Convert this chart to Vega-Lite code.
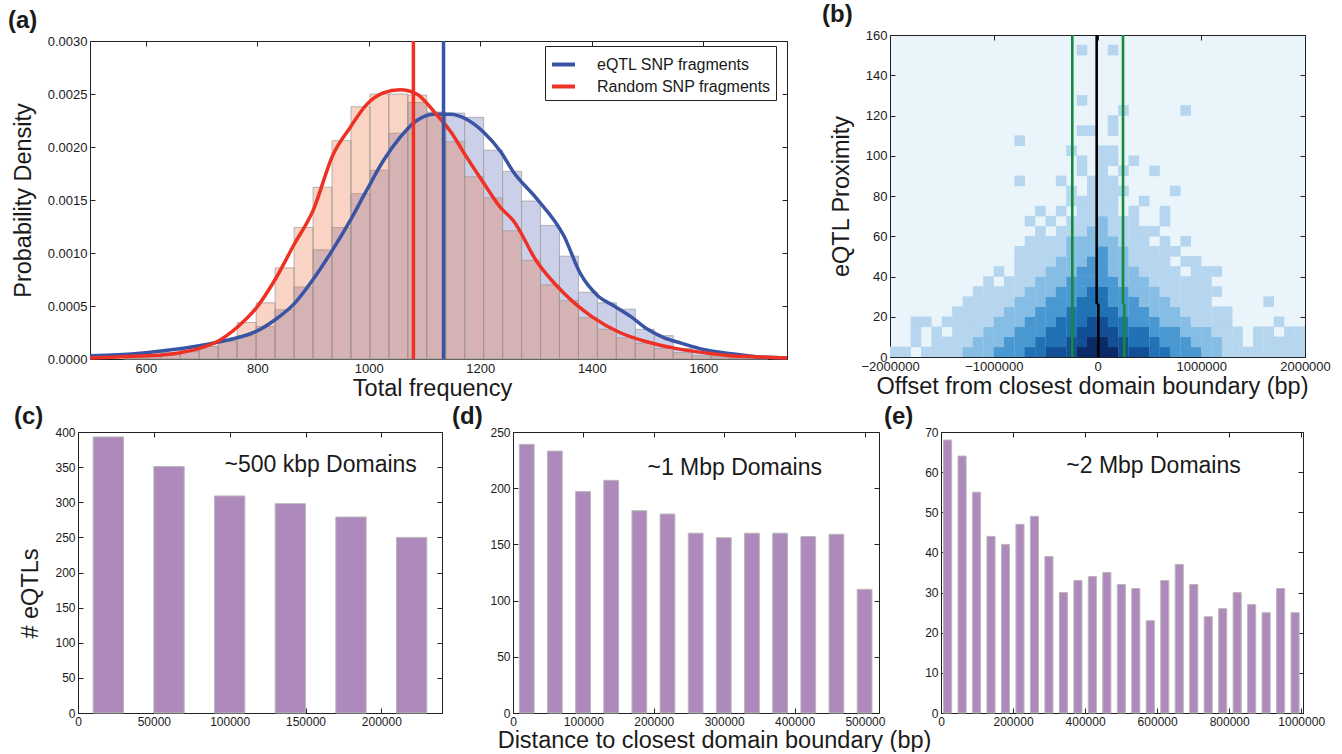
{
"$schema": "https://vega.github.io/schema/vega-lite/v6.json",
"background": "white",
"padding": {"left": 8, "top": 3, "right": 0, "bottom": 0},
"config": {
  "font": "Liberation Sans",
  "view": {"stroke": null},
  "axis": {"domainColor": "#222222", "tickColor": "#222222", "tickSize": -5, "labelPadding": 8, "labelFlush": false, "labelOverlap": false, "grid": false, "labelColor": "#1a1a1a", "labelFontSize": 12, "titleColor": "#1a1a1a", "titleFontWeight": "normal", "titleFontSize": 23.5, "zindex": 1},
  "title": {"fontSize": 24, "fontWeight": "bold", "anchor": "start", "frame": "group", "color": "#1a1a1a"}
},
"datasets": {
  "hist": [
    {"start": 560, "end": 594, "eqtl": 0.00003, "random": 0.00001},
    {"start": 594, "end": 628, "eqtl": 0.00004, "random": 0.00002},
    {"start": 628, "end": 662, "eqtl": 0.00006, "random": 0.00004},
    {"start": 662, "end": 696, "eqtl": 0.00008, "random": 0.00007},
    {"start": 696, "end": 730, "eqtl": 0.00012, "random": 0.00012},
    {"start": 730, "end": 764, "eqtl": 0.00017, "random": 0.00017},
    {"start": 764, "end": 798, "eqtl": 0.00022, "random": 0.000344},
    {"start": 798, "end": 832, "eqtl": 0.000306, "random": 0.00053},
    {"start": 832, "end": 866, "eqtl": 0.000465, "random": 0.00086},
    {"start": 866, "end": 900, "eqtl": 0.00068, "random": 0.00124},
    {"start": 900, "end": 934, "eqtl": 0.00103, "random": 0.00162},
    {"start": 934, "end": 968, "eqtl": 0.00124, "random": 0.00206},
    {"start": 968, "end": 1002, "eqtl": 0.00156, "random": 0.00238},
    {"start": 1002, "end": 1036, "eqtl": 0.00178, "random": 0.0025},
    {"start": 1036, "end": 1070, "eqtl": 0.00213, "random": 0.0025},
    {"start": 1070, "end": 1104, "eqtl": 0.00242, "random": 0.00249},
    {"start": 1104, "end": 1138, "eqtl": 0.00233, "random": 0.00232},
    {"start": 1138, "end": 1172, "eqtl": 0.00232, "random": 0.00205},
    {"start": 1172, "end": 1206, "eqtl": 0.00228, "random": 0.00172},
    {"start": 1206, "end": 1240, "eqtl": 0.00197, "random": 0.00152},
    {"start": 1240, "end": 1274, "eqtl": 0.00177, "random": 0.00121},
    {"start": 1274, "end": 1308, "eqtl": 0.00149, "random": 0.00093},
    {"start": 1308, "end": 1342, "eqtl": 0.00126, "random": 0.0007},
    {"start": 1342, "end": 1376, "eqtl": 0.00097, "random": 0.00055},
    {"start": 1376, "end": 1410, "eqtl": 0.00063, "random": 0.00039},
    {"start": 1410, "end": 1444, "eqtl": 0.00053, "random": 0.00028},
    {"start": 1444, "end": 1478, "eqtl": 0.00047, "random": 0.0002},
    {"start": 1478, "end": 1512, "eqtl": 0.00028, "random": 0.00015},
    {"start": 1512, "end": 1546, "eqtl": 0.00022, "random": 0.0001},
    {"start": 1546, "end": 1580, "eqtl": 0.0001, "random": 0.00006},
    {"start": 1580, "end": 1614, "eqtl": 0.00006, "random": 0.00003},
    {"start": 1614, "end": 1648, "eqtl": 0.00003, "random": 0.00002},
    {"start": 1648, "end": 1682, "eqtl": 0.00002, "random": 0.00001},
    {"start": 1682, "end": 1716, "eqtl": 0.00001, "random": 0.000005}
  ],
  "kde": [
    {"series": "eQTL SNP fragments", "freq": 500, "density": 0.00003},
    {"series": "eQTL SNP fragments", "freq": 550, "density": 0.00004},
    {"series": "eQTL SNP fragments", "freq": 600, "density": 0.00006},
    {"series": "eQTL SNP fragments", "freq": 650, "density": 0.00009},
    {"series": "eQTL SNP fragments", "freq": 696, "density": 0.000125},
    {"series": "eQTL SNP fragments", "freq": 730, "density": 0.00016},
    {"series": "eQTL SNP fragments", "freq": 764, "density": 0.0002},
    {"series": "eQTL SNP fragments", "freq": 798, "density": 0.00026},
    {"series": "eQTL SNP fragments", "freq": 832, "density": 0.00037},
    {"series": "eQTL SNP fragments", "freq": 866, "density": 0.00052},
    {"series": "eQTL SNP fragments", "freq": 900, "density": 0.00075},
    {"series": "eQTL SNP fragments", "freq": 934, "density": 0.00102},
    {"series": "eQTL SNP fragments", "freq": 966, "density": 0.0013},
    {"series": "eQTL SNP fragments", "freq": 996, "density": 0.00159},
    {"series": "eQTL SNP fragments", "freq": 1026, "density": 0.00187},
    {"series": "eQTL SNP fragments", "freq": 1056, "density": 0.00209},
    {"series": "eQTL SNP fragments", "freq": 1086, "density": 0.00225},
    {"series": "eQTL SNP fragments", "freq": 1116, "density": 0.00231},
    {"series": "eQTL SNP fragments", "freq": 1146, "density": 0.00231},
    {"series": "eQTL SNP fragments", "freq": 1176, "density": 0.00226},
    {"series": "eQTL SNP fragments", "freq": 1206, "density": 0.00214},
    {"series": "eQTL SNP fragments", "freq": 1236, "density": 0.00196},
    {"series": "eQTL SNP fragments", "freq": 1260, "density": 0.00176},
    {"series": "eQTL SNP fragments", "freq": 1300, "density": 0.00152},
    {"series": "eQTL SNP fragments", "freq": 1350, "density": 0.00116},
    {"series": "eQTL SNP fragments", "freq": 1380, "density": 0.0008},
    {"series": "eQTL SNP fragments", "freq": 1410, "density": 0.0006},
    {"series": "eQTL SNP fragments", "freq": 1440, "density": 0.0005},
    {"series": "eQTL SNP fragments", "freq": 1470, "density": 0.0004},
    {"series": "eQTL SNP fragments", "freq": 1500, "density": 0.00028},
    {"series": "eQTL SNP fragments", "freq": 1530, "density": 0.0002},
    {"series": "eQTL SNP fragments", "freq": 1560, "density": 0.00015},
    {"series": "eQTL SNP fragments", "freq": 1600, "density": 0.00009},
    {"series": "eQTL SNP fragments", "freq": 1650, "density": 0.00005},
    {"series": "eQTL SNP fragments", "freq": 1700, "density": 0.00002},
    {"series": "eQTL SNP fragments", "freq": 1750, "density": 0.00001},
    {"series": "Random SNP fragments", "freq": 500, "density": 0.00001},
    {"series": "Random SNP fragments", "freq": 550, "density": 0.00002},
    {"series": "Random SNP fragments", "freq": 600, "density": 0.00003},
    {"series": "Random SNP fragments", "freq": 650, "density": 0.00005},
    {"series": "Random SNP fragments", "freq": 696, "density": 0.0001},
    {"series": "Random SNP fragments", "freq": 730, "density": 0.00017},
    {"series": "Random SNP fragments", "freq": 764, "density": 0.0003},
    {"series": "Random SNP fragments", "freq": 798, "density": 0.00048},
    {"series": "Random SNP fragments", "freq": 832, "density": 0.00075},
    {"series": "Random SNP fragments", "freq": 866, "density": 0.00108},
    {"series": "Random SNP fragments", "freq": 900, "density": 0.0014},
    {"series": "Random SNP fragments", "freq": 936, "density": 0.00193},
    {"series": "Random SNP fragments", "freq": 966, "density": 0.00218},
    {"series": "Random SNP fragments", "freq": 996, "density": 0.0024},
    {"series": "Random SNP fragments", "freq": 1026, "density": 0.00251},
    {"series": "Random SNP fragments", "freq": 1056, "density": 0.00254},
    {"series": "Random SNP fragments", "freq": 1086, "density": 0.0025},
    {"series": "Random SNP fragments", "freq": 1116, "density": 0.00234},
    {"series": "Random SNP fragments", "freq": 1146, "density": 0.00215},
    {"series": "Random SNP fragments", "freq": 1176, "density": 0.0019},
    {"series": "Random SNP fragments", "freq": 1206, "density": 0.00166},
    {"series": "Random SNP fragments", "freq": 1236, "density": 0.00143},
    {"series": "Random SNP fragments", "freq": 1260, "density": 0.0013},
    {"series": "Random SNP fragments", "freq": 1300, "density": 0.00093},
    {"series": "Random SNP fragments", "freq": 1350, "density": 0.00062},
    {"series": "Random SNP fragments", "freq": 1400, "density": 0.0004},
    {"series": "Random SNP fragments", "freq": 1450, "density": 0.00025},
    {"series": "Random SNP fragments", "freq": 1500, "density": 0.00016},
    {"series": "Random SNP fragments", "freq": 1550, "density": 0.0001},
    {"series": "Random SNP fragments", "freq": 1600, "density": 0.00006},
    {"series": "Random SNP fragments", "freq": 1650, "density": 0.00003},
    {"series": "Random SNP fragments", "freq": 1700, "density": 0.00002},
    {"series": "Random SNP fragments", "freq": 1750, "density": 0.00001}
  ],
  "means": [
    {"series": "eQTL SNP fragments", "mean": 1134},
    {"series": "Random SNP fragments", "mean": 1080}
  ],
  "lines": [
    {"x": -243000, "x2": -243000, "y": 0, "y2": 160, "line": "±250 kbp"},
    {"x": 246000, "x2": 246000, "y": 26.4, "y2": 160, "line": "±250 kbp"},
    {"x": 246000, "x2": 258000, "y": 26.4, "y2": 26.4, "line": "±250 kbp"},
    {"x": 258000, "x2": 258000, "y": 0, "y2": 26.4, "line": "±250 kbp"},
    {"x": -8000, "x2": -8000, "y": 26.4, "y2": 160, "line": "0 bp"},
    {"x": -8000, "x2": 8000, "y": 26.4, "y2": 26.4, "line": "0 bp"},
    {"x": 8000, "x2": 8000, "y": 0, "y2": 26.4, "line": "0 bp"}
  ],
  "hex": [
    {"x": -1950000, "y": 2.5, "n": 1}, {"x": -1850000, "y": 2.5, "n": 1}, {"x": -1650000, "y": 2.5, "n": 1}, {"x": -1550000, "y": 2.5, "n": 1}, {"x": -1450000, "y": 2.5, "n": 1}, {"x": -1350000, "y": 2.5, "n": 1}, {"x": -1250000, "y": 2.5, "n": 2}, {"x": -1150000, "y": 2.5, "n": 2}, {"x": -1050000, "y": 2.5, "n": 2}, {"x": -950000, "y": 2.5, "n": 3}, {"x": -850000, "y": 2.5, "n": 3}, {"x": -750000, "y": 2.5, "n": 3}, {"x": -650000, "y": 2.5, "n": 4}, {"x": -550000, "y": 2.5, "n": 4}, {"x": -450000, "y": 2.5, "n": 5}, {"x": -350000, "y": 2.5, "n": 5}, {"x": -250000, "y": 2.5, "n": 5}, {"x": -150000, "y": 2.5, "n": 6}, {"x": -50000, "y": 2.5, "n": 6}, {"x": 50000, "y": 2.5, "n": 6}, {"x": 150000, "y": 2.5, "n": 6}, {"x": 250000, "y": 2.5, "n": 5}, {"x": 350000, "y": 2.5, "n": 5}, {"x": 450000, "y": 2.5, "n": 5}, {"x": 550000, "y": 2.5, "n": 4}, {"x": 650000, "y": 2.5, "n": 4}, {"x": 750000, "y": 2.5, "n": 3}, {"x": 850000, "y": 2.5, "n": 3}, {"x": 950000, "y": 2.5, "n": 3}, {"x": 1050000, "y": 2.5, "n": 2}, {"x": 1150000, "y": 2.5, "n": 2}, {"x": 1250000, "y": 2.5, "n": 1}, {"x": 1350000, "y": 2.5, "n": 1}, {"x": 1450000, "y": 2.5, "n": 1}, {"x": 1550000, "y": 2.5, "n": 1}, {"x": 1650000, "y": 2.5, "n": 1}, {"x": 1750000, "y": 2.5, "n": 1}, {"x": 1850000, "y": 2.5, "n": 1}, {"x": 1950000, "y": 2.5, "n": 1},
    {"x": -1750000, "y": 7.5, "n": 1}, {"x": -1550000, "y": 7.5, "n": 1}, {"x": -1450000, "y": 7.5, "n": 1}, {"x": -1350000, "y": 7.5, "n": 1}, {"x": -1250000, "y": 7.5, "n": 1}, {"x": -1150000, "y": 7.5, "n": 2}, {"x": -1050000, "y": 7.5, "n": 2}, {"x": -950000, "y": 7.5, "n": 2}, {"x": -850000, "y": 7.5, "n": 3}, {"x": -750000, "y": 7.5, "n": 3}, {"x": -650000, "y": 7.5, "n": 3}, {"x": -550000, "y": 7.5, "n": 4}, {"x": -450000, "y": 7.5, "n": 4}, {"x": -350000, "y": 7.5, "n": 4}, {"x": -250000, "y": 7.5, "n": 5}, {"x": -150000, "y": 7.5, "n": 5}, {"x": -50000, "y": 7.5, "n": 6}, {"x": 50000, "y": 7.5, "n": 6}, {"x": 150000, "y": 7.5, "n": 5}, {"x": 250000, "y": 7.5, "n": 5}, {"x": 350000, "y": 7.5, "n": 4}, {"x": 450000, "y": 7.5, "n": 4}, {"x": 550000, "y": 7.5, "n": 4}, {"x": 650000, "y": 7.5, "n": 3}, {"x": 750000, "y": 7.5, "n": 3}, {"x": 850000, "y": 7.5, "n": 3}, {"x": 950000, "y": 7.5, "n": 2}, {"x": 1050000, "y": 7.5, "n": 2}, {"x": 1150000, "y": 7.5, "n": 2}, {"x": 1250000, "y": 7.5, "n": 1}, {"x": 1350000, "y": 7.5, "n": 1}, {"x": 1550000, "y": 7.5, "n": 1}, {"x": 1650000, "y": 7.5, "n": 1}, {"x": 1750000, "y": 7.5, "n": 1}, {"x": 1850000, "y": 7.5, "n": 1}, {"x": 1950000, "y": 7.5, "n": 1},
    {"x": -1750000, "y": 12.5, "n": 1}, {"x": -1550000, "y": 12.5, "n": 1}, {"x": -1350000, "y": 12.5, "n": 1}, {"x": -1250000, "y": 12.5, "n": 1}, {"x": -1150000, "y": 12.5, "n": 1}, {"x": -1050000, "y": 12.5, "n": 2}, {"x": -950000, "y": 12.5, "n": 2}, {"x": -850000, "y": 12.5, "n": 2}, {"x": -750000, "y": 12.5, "n": 3}, {"x": -650000, "y": 12.5, "n": 3}, {"x": -550000, "y": 12.5, "n": 3}, {"x": -450000, "y": 12.5, "n": 4}, {"x": -350000, "y": 12.5, "n": 4}, {"x": -250000, "y": 12.5, "n": 4}, {"x": -150000, "y": 12.5, "n": 5}, {"x": -50000, "y": 12.5, "n": 5}, {"x": 50000, "y": 12.5, "n": 5}, {"x": 150000, "y": 12.5, "n": 5}, {"x": 250000, "y": 12.5, "n": 4}, {"x": 350000, "y": 12.5, "n": 4}, {"x": 450000, "y": 12.5, "n": 4}, {"x": 550000, "y": 12.5, "n": 3}, {"x": 650000, "y": 12.5, "n": 3}, {"x": 750000, "y": 12.5, "n": 3}, {"x": 850000, "y": 12.5, "n": 2}, {"x": 950000, "y": 12.5, "n": 2}, {"x": 1050000, "y": 12.5, "n": 2}, {"x": 1150000, "y": 12.5, "n": 1}, {"x": 1250000, "y": 12.5, "n": 1}, {"x": 1350000, "y": 12.5, "n": 1}, {"x": 1550000, "y": 12.5, "n": 1}, {"x": 1650000, "y": 12.5, "n": 1}, {"x": 1850000, "y": 12.5, "n": 1}, {"x": 1950000, "y": 12.5, "n": 1},
    {"x": -1750000, "y": 17.5, "n": 1}, {"x": -1650000, "y": 17.5, "n": 1}, {"x": -1450000, "y": 17.5, "n": 1}, {"x": -1350000, "y": 17.5, "n": 1}, {"x": -1250000, "y": 17.5, "n": 1}, {"x": -1150000, "y": 17.5, "n": 1}, {"x": -1050000, "y": 17.5, "n": 1}, {"x": -950000, "y": 17.5, "n": 2}, {"x": -850000, "y": 17.5, "n": 2}, {"x": -750000, "y": 17.5, "n": 2}, {"x": -650000, "y": 17.5, "n": 3}, {"x": -550000, "y": 17.5, "n": 3}, {"x": -450000, "y": 17.5, "n": 3}, {"x": -350000, "y": 17.5, "n": 4}, {"x": -250000, "y": 17.5, "n": 4}, {"x": -150000, "y": 17.5, "n": 4}, {"x": -50000, "y": 17.5, "n": 5}, {"x": 50000, "y": 17.5, "n": 5}, {"x": 150000, "y": 17.5, "n": 4}, {"x": 250000, "y": 17.5, "n": 4}, {"x": 350000, "y": 17.5, "n": 3}, {"x": 450000, "y": 17.5, "n": 3}, {"x": 550000, "y": 17.5, "n": 3}, {"x": 650000, "y": 17.5, "n": 2}, {"x": 750000, "y": 17.5, "n": 2}, {"x": 850000, "y": 17.5, "n": 2}, {"x": 950000, "y": 17.5, "n": 1}, {"x": 1050000, "y": 17.5, "n": 1}, {"x": 1150000, "y": 17.5, "n": 1}, {"x": 1250000, "y": 17.5, "n": 1}, {"x": 1750000, "y": 17.5, "n": 1},
    {"x": -1350000, "y": 22.5, "n": 1}, {"x": -1250000, "y": 22.5, "n": 1}, {"x": -1150000, "y": 22.5, "n": 1}, {"x": -1050000, "y": 22.5, "n": 1}, {"x": -950000, "y": 22.5, "n": 1}, {"x": -850000, "y": 22.5, "n": 2}, {"x": -750000, "y": 22.5, "n": 2}, {"x": -650000, "y": 22.5, "n": 2}, {"x": -550000, "y": 22.5, "n": 3}, {"x": -450000, "y": 22.5, "n": 3}, {"x": -350000, "y": 22.5, "n": 3}, {"x": -250000, "y": 22.5, "n": 4}, {"x": -150000, "y": 22.5, "n": 4}, {"x": -50000, "y": 22.5, "n": 4}, {"x": 50000, "y": 22.5, "n": 4}, {"x": 150000, "y": 22.5, "n": 4}, {"x": 250000, "y": 22.5, "n": 3}, {"x": 350000, "y": 22.5, "n": 3}, {"x": 450000, "y": 22.5, "n": 3}, {"x": 550000, "y": 22.5, "n": 2}, {"x": 650000, "y": 22.5, "n": 2}, {"x": 750000, "y": 22.5, "n": 2}, {"x": 850000, "y": 22.5, "n": 1}, {"x": 950000, "y": 22.5, "n": 1}, {"x": 1050000, "y": 22.5, "n": 1}, {"x": 1150000, "y": 22.5, "n": 1}, {"x": 1250000, "y": 22.5, "n": 1},
    {"x": -1250000, "y": 27.5, "n": 1}, {"x": -1150000, "y": 27.5, "n": 1}, {"x": -1050000, "y": 27.5, "n": 1}, {"x": -950000, "y": 27.5, "n": 1}, {"x": -850000, "y": 27.5, "n": 1}, {"x": -750000, "y": 27.5, "n": 2}, {"x": -650000, "y": 27.5, "n": 2}, {"x": -550000, "y": 27.5, "n": 2}, {"x": -450000, "y": 27.5, "n": 3}, {"x": -350000, "y": 27.5, "n": 3}, {"x": -250000, "y": 27.5, "n": 3}, {"x": -150000, "y": 27.5, "n": 4}, {"x": -50000, "y": 27.5, "n": 4}, {"x": 50000, "y": 27.5, "n": 4}, {"x": 150000, "y": 27.5, "n": 3}, {"x": 250000, "y": 27.5, "n": 3}, {"x": 350000, "y": 27.5, "n": 3}, {"x": 450000, "y": 27.5, "n": 2}, {"x": 550000, "y": 27.5, "n": 2}, {"x": 650000, "y": 27.5, "n": 2}, {"x": 750000, "y": 27.5, "n": 1}, {"x": 850000, "y": 27.5, "n": 1}, {"x": 950000, "y": 27.5, "n": 1}, {"x": 1050000, "y": 27.5, "n": 1}, {"x": 1650000, "y": 27.5, "n": 1},
    {"x": -1150000, "y": 32.5, "n": 1}, {"x": -1050000, "y": 32.5, "n": 1}, {"x": -950000, "y": 32.5, "n": 1}, {"x": -850000, "y": 32.5, "n": 1}, {"x": -750000, "y": 32.5, "n": 1}, {"x": -650000, "y": 32.5, "n": 2}, {"x": -550000, "y": 32.5, "n": 2}, {"x": -450000, "y": 32.5, "n": 2}, {"x": -350000, "y": 32.5, "n": 3}, {"x": -250000, "y": 32.5, "n": 3}, {"x": -150000, "y": 32.5, "n": 3}, {"x": -50000, "y": 32.5, "n": 4}, {"x": 50000, "y": 32.5, "n": 4}, {"x": 150000, "y": 32.5, "n": 3}, {"x": 250000, "y": 32.5, "n": 3}, {"x": 350000, "y": 32.5, "n": 2}, {"x": 450000, "y": 32.5, "n": 2}, {"x": 550000, "y": 32.5, "n": 2}, {"x": 650000, "y": 32.5, "n": 1}, {"x": 750000, "y": 32.5, "n": 1}, {"x": 850000, "y": 32.5, "n": 1}, {"x": 950000, "y": 32.5, "n": 1}, {"x": 1050000, "y": 32.5, "n": 1}, {"x": 1150000, "y": 32.5, "n": 1},
    {"x": -1050000, "y": 37.5, "n": 1}, {"x": -850000, "y": 37.5, "n": 1}, {"x": -750000, "y": 37.5, "n": 1}, {"x": -650000, "y": 37.5, "n": 1}, {"x": -550000, "y": 37.5, "n": 2}, {"x": -450000, "y": 37.5, "n": 2}, {"x": -350000, "y": 37.5, "n": 2}, {"x": -250000, "y": 37.5, "n": 3}, {"x": -150000, "y": 37.5, "n": 3}, {"x": -50000, "y": 37.5, "n": 3}, {"x": 50000, "y": 37.5, "n": 3}, {"x": 150000, "y": 37.5, "n": 3}, {"x": 250000, "y": 37.5, "n": 2}, {"x": 350000, "y": 37.5, "n": 2}, {"x": 450000, "y": 37.5, "n": 2}, {"x": 550000, "y": 37.5, "n": 1}, {"x": 650000, "y": 37.5, "n": 1}, {"x": 750000, "y": 37.5, "n": 1}, {"x": 850000, "y": 37.5, "n": 1}, {"x": 950000, "y": 37.5, "n": 1}, {"x": 1050000, "y": 37.5, "n": 1},
    {"x": -950000, "y": 42.5, "n": 1}, {"x": -750000, "y": 42.5, "n": 1}, {"x": -650000, "y": 42.5, "n": 1}, {"x": -550000, "y": 42.5, "n": 1}, {"x": -450000, "y": 42.5, "n": 2}, {"x": -350000, "y": 42.5, "n": 2}, {"x": -250000, "y": 42.5, "n": 2}, {"x": -150000, "y": 42.5, "n": 3}, {"x": -50000, "y": 42.5, "n": 3}, {"x": 50000, "y": 42.5, "n": 3}, {"x": 150000, "y": 42.5, "n": 2}, {"x": 250000, "y": 42.5, "n": 2}, {"x": 350000, "y": 42.5, "n": 2}, {"x": 450000, "y": 42.5, "n": 1}, {"x": 550000, "y": 42.5, "n": 1}, {"x": 650000, "y": 42.5, "n": 1}, {"x": 750000, "y": 42.5, "n": 1}, {"x": 950000, "y": 42.5, "n": 1}, {"x": 1050000, "y": 42.5, "n": 1}, {"x": 1150000, "y": 42.5, "n": 1},
    {"x": -750000, "y": 47.5, "n": 1}, {"x": -650000, "y": 47.5, "n": 1}, {"x": -550000, "y": 47.5, "n": 1}, {"x": -450000, "y": 47.5, "n": 1}, {"x": -350000, "y": 47.5, "n": 2}, {"x": -250000, "y": 47.5, "n": 2}, {"x": -150000, "y": 47.5, "n": 2}, {"x": -50000, "y": 47.5, "n": 3}, {"x": 50000, "y": 47.5, "n": 3}, {"x": 150000, "y": 47.5, "n": 2}, {"x": 250000, "y": 47.5, "n": 2}, {"x": 350000, "y": 47.5, "n": 1}, {"x": 450000, "y": 47.5, "n": 1}, {"x": 550000, "y": 47.5, "n": 1}, {"x": 650000, "y": 47.5, "n": 1}, {"x": 850000, "y": 47.5, "n": 1}, {"x": 950000, "y": 47.5, "n": 1},
    {"x": -750000, "y": 52.5, "n": 1}, {"x": -650000, "y": 52.5, "n": 1}, {"x": -550000, "y": 52.5, "n": 1}, {"x": -450000, "y": 52.5, "n": 1}, {"x": -350000, "y": 52.5, "n": 1}, {"x": -250000, "y": 52.5, "n": 2}, {"x": -150000, "y": 52.5, "n": 2}, {"x": -50000, "y": 52.5, "n": 2}, {"x": 50000, "y": 52.5, "n": 3}, {"x": 150000, "y": 52.5, "n": 2}, {"x": 250000, "y": 52.5, "n": 2}, {"x": 350000, "y": 52.5, "n": 1}, {"x": 450000, "y": 52.5, "n": 1}, {"x": 550000, "y": 52.5, "n": 1}, {"x": 650000, "y": 52.5, "n": 1}, {"x": 750000, "y": 52.5, "n": 1},
    {"x": -650000, "y": 57.5, "n": 1}, {"x": -550000, "y": 57.5, "n": 1}, {"x": -450000, "y": 57.5, "n": 1}, {"x": -350000, "y": 57.5, "n": 1}, {"x": -250000, "y": 57.5, "n": 2}, {"x": -150000, "y": 57.5, "n": 2}, {"x": -50000, "y": 57.5, "n": 2}, {"x": 50000, "y": 57.5, "n": 2}, {"x": 150000, "y": 57.5, "n": 2}, {"x": 250000, "y": 57.5, "n": 1}, {"x": 350000, "y": 57.5, "n": 1}, {"x": 450000, "y": 57.5, "n": 1}, {"x": 650000, "y": 57.5, "n": 1}, {"x": 850000, "y": 57.5, "n": 1},
    {"x": -550000, "y": 62.5, "n": 1}, {"x": -350000, "y": 62.5, "n": 1}, {"x": -250000, "y": 62.5, "n": 1}, {"x": -150000, "y": 62.5, "n": 1}, {"x": -50000, "y": 62.5, "n": 2}, {"x": 50000, "y": 62.5, "n": 2}, {"x": 150000, "y": 62.5, "n": 1}, {"x": 250000, "y": 62.5, "n": 1}, {"x": 350000, "y": 62.5, "n": 1}, {"x": 450000, "y": 62.5, "n": 1}, {"x": 550000, "y": 62.5, "n": 1},
    {"x": -650000, "y": 67.5, "n": 1}, {"x": -450000, "y": 67.5, "n": 1}, {"x": -250000, "y": 67.5, "n": 1}, {"x": -150000, "y": 67.5, "n": 1}, {"x": -50000, "y": 67.5, "n": 1}, {"x": 50000, "y": 67.5, "n": 2}, {"x": 150000, "y": 67.5, "n": 1}, {"x": 250000, "y": 67.5, "n": 1}, {"x": 350000, "y": 67.5, "n": 1}, {"x": 650000, "y": 67.5, "n": 1},
    {"x": -550000, "y": 72.5, "n": 1}, {"x": -350000, "y": 72.5, "n": 1}, {"x": -150000, "y": 72.5, "n": 1}, {"x": -50000, "y": 72.5, "n": 1}, {"x": 50000, "y": 72.5, "n": 1}, {"x": 150000, "y": 72.5, "n": 1}, {"x": 350000, "y": 72.5, "n": 1}, {"x": 650000, "y": 72.5, "n": 1},
    {"x": -250000, "y": 77.5, "n": 1}, {"x": -150000, "y": 77.5, "n": 1}, {"x": -50000, "y": 77.5, "n": 1}, {"x": 50000, "y": 77.5, "n": 1}, {"x": 150000, "y": 77.5, "n": 1}, {"x": 450000, "y": 77.5, "n": 1},
    {"x": -250000, "y": 82.5, "n": 1}, {"x": -50000, "y": 82.5, "n": 1}, {"x": 50000, "y": 82.5, "n": 1}, {"x": 150000, "y": 82.5, "n": 1}, {"x": 250000, "y": 82.5, "n": 1}, {"x": 750000, "y": 82.5, "n": 1},
    {"x": -750000, "y": 87.5, "n": 1}, {"x": -350000, "y": 87.5, "n": 1}, {"x": -50000, "y": 87.5, "n": 1}, {"x": 50000, "y": 87.5, "n": 1}, {"x": 150000, "y": 87.5, "n": 1},
    {"x": -150000, "y": 92.5, "n": 1}, {"x": 50000, "y": 92.5, "n": 1}, {"x": 250000, "y": 92.5, "n": 1}, {"x": 550000, "y": 92.5, "n": 1},
    {"x": -150000, "y": 97.5, "n": 1}, {"x": 50000, "y": 97.5, "n": 1}, {"x": 150000, "y": 97.5, "n": 1}, {"x": 350000, "y": 97.5, "n": 1},
    {"x": -250000, "y": 102.5, "n": 1}, {"x": 50000, "y": 102.5, "n": 1}, {"x": 150000, "y": 102.5, "n": 1},
    {"x": -750000, "y": 107.5, "n": 1},
    {"x": -150000, "y": 112.5, "n": 1}, {"x": -50000, "y": 112.5, "n": 1}, {"x": 150000, "y": 112.5, "n": 1},
    {"x": 150000, "y": 117.5, "n": 1},
    {"x": 250000, "y": 122.5, "n": 1}, {"x": 850000, "y": 122.5, "n": 1},
    {"x": -150000, "y": 127.5, "n": 1},
    {"x": -150000, "y": 152.5, "n": 1}, {"x": 150000, "y": 152.5, "n": 1}
  ],
  "c": [
    {"start": 10000, "end": 30000, "eqtls": 393},
    {"start": 50000, "end": 70000, "eqtls": 351},
    {"start": 90000, "end": 110000, "eqtls": 309},
    {"start": 130000, "end": 150000, "eqtls": 298},
    {"start": 170000, "end": 190000, "eqtls": 279},
    {"start": 210000, "end": 230000, "eqtls": 250}
  ],
  "d": [
    {"start": 9000, "end": 30000, "eqtls": 239},
    {"start": 49000, "end": 70000, "eqtls": 233},
    {"start": 89000, "end": 110000, "eqtls": 197},
    {"start": 129000, "end": 150000, "eqtls": 207},
    {"start": 169000, "end": 190000, "eqtls": 180},
    {"start": 209000, "end": 230000, "eqtls": 177},
    {"start": 249000, "end": 270000, "eqtls": 160},
    {"start": 289000, "end": 310000, "eqtls": 156},
    {"start": 329000, "end": 350000, "eqtls": 160},
    {"start": 369000, "end": 390000, "eqtls": 160},
    {"start": 409000, "end": 430000, "eqtls": 157},
    {"start": 449000, "end": 470000, "eqtls": 159},
    {"start": 489000, "end": 510000, "eqtls": 110}
  ],
  "e": [
    {"start": 7000, "end": 29500, "eqtls": 68},
    {"start": 47200, "end": 69700, "eqtls": 64},
    {"start": 87400, "end": 109900, "eqtls": 55},
    {"start": 127600, "end": 150100, "eqtls": 44},
    {"start": 167800, "end": 190300, "eqtls": 42},
    {"start": 208000, "end": 230500, "eqtls": 47},
    {"start": 248200, "end": 270700, "eqtls": 49},
    {"start": 288400, "end": 310900, "eqtls": 39},
    {"start": 328600, "end": 351100, "eqtls": 30},
    {"start": 368800, "end": 391300, "eqtls": 33},
    {"start": 409000, "end": 431500, "eqtls": 34},
    {"start": 449200, "end": 471700, "eqtls": 35},
    {"start": 489400, "end": 511900, "eqtls": 32},
    {"start": 529600, "end": 552100, "eqtls": 31},
    {"start": 569800, "end": 592300, "eqtls": 23},
    {"start": 610000, "end": 632500, "eqtls": 33},
    {"start": 650200, "end": 672700, "eqtls": 37},
    {"start": 690400, "end": 712900, "eqtls": 32},
    {"start": 730600, "end": 753100, "eqtls": 24},
    {"start": 770800, "end": 793300, "eqtls": 26},
    {"start": 811000, "end": 833500, "eqtls": 30},
    {"start": 851200, "end": 873700, "eqtls": 27},
    {"start": 891400, "end": 913900, "eqtls": 25},
    {"start": 931600, "end": 954100, "eqtls": 31},
    {"start": 971800, "end": 994300, "eqtls": 25}
  ]
},
"spacing": 5,
"bounds": "full",
"resolve": {"scale": {"color": "independent", "fill": "independent", "stroke": "independent"}, "legend": {"color": "independent", "fill": "independent", "stroke": "independent"}},
"vconcat": [
  {
    "resolve": {"scale": {"color": "independent", "fill": "independent", "stroke": "independent"}, "legend": {"color": "independent", "fill": "independent", "stroke": "independent"}},
    "hconcat": [
      {
        "width": 709, "height": 324,
        "title": {"text": "(a)", "dx": -70, "offset": 2},
        "resolve": {"axis": {"x": "independent", "y": "independent"}},
        "layer": [
          {
            "data": {"name": "hist"},
            "mark": {"type": "rect", "fill": "#cbcfe8", "stroke": "#9a9a9a", "strokeWidth": 0.7},
            "encoding": {
              "x": {"field": "start", "type": "quantitative", "scale": {"domain": [500, 1750], "range": [12, 709], "nice": false, "zero": false},
                    "axis": {"orient": "bottom", "values": [600, 800, 1000, 1200, 1400, 1600], "format": "d", "labelFontSize": 13, "title": "Total frequency", "titlePadding": 1, "titleX": 354, "titleAlign": "center"}},
              "x2": {"field": "end"},
              "y": {"field": "eqtl", "type": "quantitative", "scale": {"domain": [0, 0.003], "range": [324, 6], "nice": false},
                    "axis": {"orient": "left", "offset": -12, "values": [0, 0.0005, 0.001, 0.0015, 0.002, 0.0025, 0.003], "format": ".4f", "labelFontSize": 13, "title": "Probability Density", "titlePadding": 12}},
              "y2": {"datum": 0}
            }
          },
          {
            "data": {"name": "hist"},
            "mark": {"type": "rect", "fill": "#ec7947", "fillOpacity": 0.32, "stroke": "#9a9a9a", "strokeWidth": 0.7},
            "encoding": {
              "x": {"field": "start", "type": "quantitative", "axis": null},
              "x2": {"field": "end"},
              "y": {"field": "random", "type": "quantitative", "axis": null},
              "y2": {"datum": 0}
            }
          },
          {
            "data": {"name": "kde"},
            "mark": {"type": "line", "strokeWidth": 3.5, "interpolate": "monotone"},
            "encoding": {
              "x": {"field": "freq", "type": "quantitative", "axis": {"orient": "top", "offset": -6, "labels": false, "title": null, "values": [600, 800, 1000, 1200, 1400, 1600]}},
              "y": {"field": "density", "type": "quantitative", "axis": {"orient": "right", "labels": false, "title": null, "values": [0, 0.0005, 0.001, 0.0015, 0.002, 0.0025, 0.003]}},
              "color": {"field": "series", "type": "nominal",
                        "scale": {"domain": ["eQTL SNP fragments", "Random SNP fragments"], "range": ["#3a54a4", "#ee3124"]},
                        "legend": {"orient": "top-right", "offset": 11, "title": null, "symbolType": "stroke", "symbolStrokeWidth": 4, "symbolSize": 529, "labelFontSize": 16, "labelLimit": 400, "labelColor": "#1a1a1a", "strokeColor": "#222222", "fillColor": "white", "padding": 5, "rowPadding": 0, "labelOffset": 20, "cornerRadius": 0}}
            }
          },
          {
            "data": {"name": "means"},
            "mark": {"type": "rule", "strokeWidth": 3.5},
            "encoding": {
              "x": {"field": "mean", "type": "quantitative", "axis": null},
              "y": {"datum": 0, "type": "quantitative", "axis": null},
              "y2": {"datum": 0.003},
              "color": {"field": "series", "type": "nominal", "legend": null}
            }
          }
        ]
      },
      {
        "width": 415, "height": 322,
        "title": {"text": "(b)", "dx": -68, "offset": 2},
        "view": {"fill": "#eaf4fb"},
        "resolve": {"axis": {"x": "independent", "y": "independent"}},
        "layer": [
          {
            "data": {"name": "hex"},
            "mark": {"type": "square", "size": 112, "opacity": 1, "clip": true},
            "encoding": {
              "x": {"field": "x", "type": "quantitative", "scale": {"domain": [-2000000, 2000000], "nice": false},
                    "axis": {"orient": "bottom", "values": [-2000000, -1000000, 0, 1000000, 2000000], "format": "d", "labelFontSize": 13, "title": "Offset from closest domain boundary (bp)", "titlePadding": 1, "titleX": 202, "titleAlign": "center"}},
              "y": {"field": "y", "type": "quantitative", "scale": {"domain": [0, 160], "nice": false},
                    "axis": {"orient": "left", "values": [0, 20, 40, 60, 80, 100, 120, 140, 160], "labelFontSize": 13, "title": "eQTL Proximity", "titlePadding": 12}},
              "fill": {"field": "n", "type": "ordinal", "scale": {"domain": [1, 2, 3, 4, 5, 6], "range": ["#b5d6ee", "#86bde4", "#4a98d2", "#2171b5", "#134f94", "#0b2a66"]}, "legend": null}
            }
          },
          {
            "data": {"name": "lines"},
            "mark": {"type": "rule", "strokeWidth": 2.6},
            "encoding": {
              "x": {"field": "x", "type": "quantitative", "axis": {"orient": "top", "labels": false, "title": null, "values": [-2000000, -1000000, 0, 1000000, 2000000]}},
              "x2": {"field": "x2"},
              "y": {"field": "y", "type": "quantitative", "axis": {"orient": "right", "labels": false, "title": null, "values": [0, 20, 40, 60, 80, 100, 120, 140, 160]}},
              "y2": {"field": "y2"},
              "stroke": {"field": "line", "type": "nominal", "scale": {"domain": ["±250 kbp", "0 bp"], "range": ["#138a3c", "#000000"]}, "legend": null}
            }
          }
        ]
      }
    ],
    "spacing": 103,
    "bounds": "flush"
  },
  {
    "hconcat": [
      {
        "width": 373, "height": 281,
        "title": {"text": "(c)", "dx": -64, "offset": -3},
        "resolve": {"axis": {"x": "independent", "y": "independent"}},
        "layer": [
          {
            "data": {"name": "c"},
            "mark": {"type": "rect", "fill": "#ae89bc", "stroke": "#b8b8b8", "strokeWidth": 1},
            "encoding": {
              "x": {"field": "start", "type": "quantitative", "scale": {"domain": [0, 240000], "range": [0, 364], "nice": false},
                    "axis": {"orient": "bottom", "values": [0, 50000, 100000, 150000, 200000], "format": "d", "title": null}},
              "x2": {"field": "end"},
              "y": {"field": "eqtls", "type": "quantitative", "scale": {"domain": [0, 400], "nice": false},
                    "axis": {"orient": "left", "values": [0, 50, 100, 150, 200, 250, 300, 350, 400], "title": "# eQTLs", "titlePadding": 12, "titleY": 161, "titleAlign": "center"}},
              "y2": {"datum": 0}
            }
          },
          {
            "data": {"values": [{"x": 160000, "y": 353, "label": "~500 kbp Domains"}]},
            "mark": {"type": "text", "fontSize": 23, "align": "center", "baseline": "middle", "color": "#1a1a1a"},
            "encoding": {
              "x": {"field": "x", "type": "quantitative", "axis": {"orient": "top", "labels": false, "title": null, "values": [0, 50000, 100000, 150000, 200000]}},
              "y": {"field": "y", "type": "quantitative", "axis": {"orient": "right", "offset": -9, "labels": false, "title": null, "values": [0, 50, 100, 150, 200, 250, 300, 350, 400]}},
              "text": {"field": "label"}
            }
          }
        ]
      },
      {
        "width": 366, "height": 281,
        "title": {"text": "(d)", "dx": -61, "offset": -3},
        "resolve": {"axis": {"x": "independent", "y": "independent"}},
        "layer": [
          {
            "data": {"name": "d"},
            "mark": {"type": "rect", "fill": "#ae89bc", "stroke": "#b8b8b8", "strokeWidth": 1},
            "encoding": {
              "x": {"field": "start", "type": "quantitative", "scale": {"domain": [0, 520000], "nice": false},
                    "axis": {"orient": "bottom", "values": [0, 100000, 200000, 300000, 400000, 500000], "format": "d", "title": "Distance to closest domain boundary (bp)", "titlePadding": 1, "titleX": 201, "titleAlign": "center"}},
              "x2": {"field": "end"},
              "y": {"field": "eqtls", "type": "quantitative", "scale": {"domain": [0, 250], "nice": false},
                    "axis": {"orient": "left", "values": [0, 50, 100, 150, 200, 250], "title": null}},
              "y2": {"datum": 0}
            }
          },
          {
            "data": {"values": [{"x": 315000, "y": 218, "label": "~1 Mbp Domains"}]},
            "mark": {"type": "text", "fontSize": 23, "align": "center", "baseline": "middle", "color": "#1a1a1a"},
            "encoding": {
              "x": {"field": "x", "type": "quantitative", "axis": {"orient": "top", "labels": false, "title": null, "values": [0, 100000, 200000, 300000, 400000, 500000]}},
              "y": {"field": "y", "type": "quantitative", "axis": {"orient": "right", "labels": false, "title": null, "values": [0, 50, 100, 150, 200, 250]}},
              "text": {"field": "label"}
            }
          }
        ]
      },
      {
        "width": 362, "height": 281,
        "title": {"text": "(e)", "dx": -57, "offset": -3},
        "resolve": {"axis": {"x": "independent", "y": "independent"}},
        "layer": [
          {
            "data": {"name": "e"},
            "mark": {"type": "rect", "fill": "#ae89bc", "stroke": "#b8b8b8", "strokeWidth": 1},
            "encoding": {
              "x": {"field": "start", "type": "quantitative", "scale": {"domain": [0, 1005000], "nice": false},
                    "axis": {"orient": "bottom", "values": [0, 200000, 400000, 600000, 800000, 1000000], "format": "d", "title": null}},
              "x2": {"field": "end"},
              "y": {"field": "eqtls", "type": "quantitative", "scale": {"domain": [0, 70], "nice": false},
                    "axis": {"orient": "left", "values": [0, 10, 20, 30, 40, 50, 60, 70], "title": null}},
              "y2": {"datum": 0}
            }
          },
          {
            "data": {"values": [{"x": 590000, "y": 61.6, "label": "~2 Mbp Domains"}]},
            "mark": {"type": "text", "fontSize": 23, "align": "center", "baseline": "middle", "color": "#1a1a1a"},
            "encoding": {
              "x": {"field": "x", "type": "quantitative", "axis": {"orient": "top", "labels": false, "title": null, "values": [0, 200000, 400000, 600000, 800000, 1000000]}},
              "y": {"field": "y", "type": "quantitative", "axis": {"orient": "right", "labels": false, "title": null, "values": [0, 10, 20, 30, 40, 50, 60, 70]}},
              "text": {"field": "label"}
            }
          }
        ]
      }
    ],
    "spacing": 62,
    "bounds": "flush"
  }
]
}
